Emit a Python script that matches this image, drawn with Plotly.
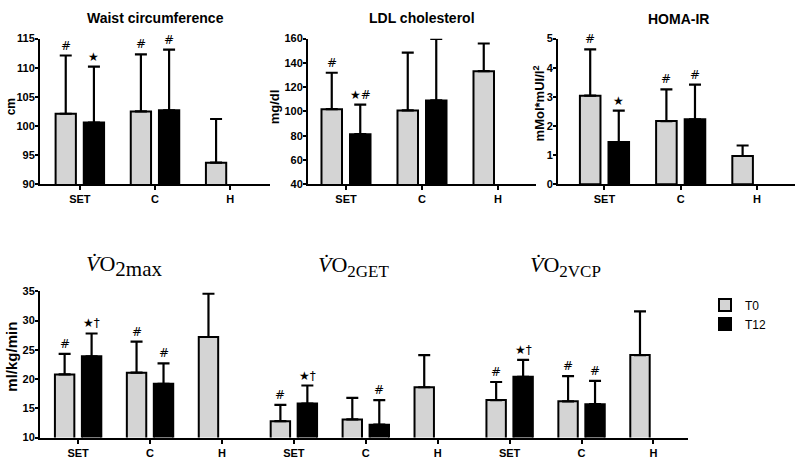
import plotly.graph_objects as go

W, H = 797, 463

# ---------------- data ----------------
groups = ["SET", "C", "H"]

waist_t0 = [102.1, 102.5, 93.7]
waist_t0_sd = [10.0, 9.8, 7.5]
waist_t12 = [100.6, 102.7, None]
waist_t12_sd = [9.6, 10.4, None]
waist_t0_mark = ["#", "#", ""]
waist_t12_mark = ["★", "#", ""]

ldl_t0 = [101.9, 100.8, 133.2]
ldl_t0_sd = [30.0, 47.7, 22.8]
ldl_t12 = [81.3, 109.1, None]
ldl_t12_sd = [24.3, 50.6, None]
ldl_t0_mark = ["#", "", ""]
ldl_t12_mark = ["★#", "", ""]

homa_t0 = [3.04, 2.17, 0.97]
homa_t0_sd = [1.59, 1.09, 0.36]
homa_t12 = [1.45, 2.23, None]
homa_t12_sd = [1.08, 1.19, None]
homa_t0_mark = ["#", "#", ""]
homa_t12_mark = ["★", "#", ""]

# bottom panel: VO2max, VO2GET, VO2VCP (each SET, C, H)
vo2_labels = ["SET", "C", "H"] * 3
vo2_t0 = [20.8, 21.1, 27.2, 12.8, 13.1, 18.6, 16.4, 16.2, 24.1]
vo2_t0_sd = [3.5, 5.3, 7.4, 2.8, 3.7, 5.5, 3.1, 4.3, 7.5]
vo2_t12 = [23.9, 19.2, None, 15.8, 12.2, None, 20.4, 15.7, None]
vo2_t12_sd = [3.9, 3.5, None, 3.1, 4.2, None, 2.9, 4.0, None]
vo2_t0_mark = ["#", "#", "", "#", "", "", "#", "#", ""]
vo2_t12_mark = ["★†", "#", "", "★†", "#", "", "★†", "#", ""]

panel_titles = ["Waist circumference", "LDL cholesterol", "HOMA-IR"]
y_titles = ["cm", "mg/dl", "mMol*mUI/l<sup>2</sup>"]
vo2_subs = ["2max", "2GET", "2VCP"]

# ---------------- style ----------------
GRAY = "#d4d4d4"
BLACK = "#000000"
SANS = "Arial, Liberation Sans, sans-serif"
SERIF = "Times New Roman, Liberation Serif, serif"
BARGAP = 0.25
BARGROUPGAP = 0.28
SLOT = (1 - BARGAP) / 2
OFF = SLOT / 2  # center offset of each bar from group center


def px_dom_x(a, b):
    return [a / W, b / W]


def px_dom_y(top, bottom):
    return [1 - bottom / H, 1 - top / H]


fig = go.Figure()

panels = [
    dict(xa="x", ya="y", t0=waist_t0, t0sd=waist_t0_sd, t12=waist_t12, t12sd=waist_t12_sd,
         m0=waist_t0_mark, m12=waist_t12_mark, labels=groups),
    dict(xa="x2", ya="y2", t0=ldl_t0, t0sd=ldl_t0_sd, t12=ldl_t12, t12sd=ldl_t12_sd,
         m0=ldl_t0_mark, m12=ldl_t12_mark, labels=groups),
    dict(xa="x3", ya="y3", t0=homa_t0, t0sd=homa_t0_sd, t12=homa_t12, t12sd=homa_t12_sd,
         m0=homa_t0_mark, m12=homa_t12_mark, labels=groups),
    dict(xa="x4", ya="y4", t0=vo2_t0, t0sd=vo2_t0_sd, t12=vo2_t12, t12sd=vo2_t12_sd,
         m0=vo2_t0_mark, m12=vo2_t12_mark, labels=vo2_labels),
]

annotations = []
for pi, p in enumerate(panels):
    xs = list(range(len(p["labels"])))
    for name, vals, sds, color, marks, sign in [
        ("T0", p["t0"], p["t0sd"], GRAY, p["m0"], -1),
        ("T12", p["t12"], p["t12sd"], BLACK, p["m12"], 1),
    ]:
        fig.add_trace(go.Bar(
            x=xs, y=vals, name=name, xaxis=p["xa"], yaxis=p["ya"],
            offsetgroup=name, legendgroup=name, showlegend=(pi == 0),
            marker=dict(color=color, line=dict(color=BLACK, width=2)),
            error_y=dict(type="data", array=sds, arrayminus=[0 if s is not None else None for s in sds],
                         symmetric=False, color=BLACK, thickness=2.2, width=6),
            hoverinfo="skip",
        ))
        for i, (v, s, m) in enumerate(zip(vals, sds, marks)):
            if m and v is not None:
                annotations.append(dict(
                    x=i + sign * OFF, y=v + s, xref=p["xa"], yref=p["ya"],
                    text=m, showarrow=False, yanchor="bottom", xanchor="center",
                    yshift=1, font=dict(family="DejaVu Sans, " + SANS, size=12, color=BLACK),
                ))

axis_common = dict(showline=True, linecolor=BLACK, linewidth=2, showgrid=False, zeroline=False,
                   ticks="outside", tickcolor=BLACK, tickwidth=2, ticklen=3,
                   ticklabelstandoff=-2,
                   tickfont=dict(family=SANS, size=11, color=BLACK, weight="bold"))
xaxis_common = dict(showline=True, linecolor=BLACK, linewidth=2, showgrid=False, zeroline=False,
                    ticks="outside", tickcolor=BLACK, tickwidth=1.5, ticklen=4,
                    tickfont=dict(family=SANS, size=11, color=BLACK, weight="bold"), fixedrange=True)

layout = dict(
    width=W, height=H, margin=dict(l=0, r=0, t=0, b=0),
    paper_bgcolor="white", plot_bgcolor="white",
    barmode="group", bargap=BARGAP, bargroupgap=BARGROUPGAP,
    showlegend=True,
    legend=dict(x=705 / W, y=1 - 292 / H, xanchor="left", yanchor="top",
                font=dict(family=SANS, size=12, color=BLACK), bgcolor="rgba(0,0,0,0)",
                tracegroupgap=0, itemclick=False),
)

# top panels
top_x = [(40, 270, -0.53, 2.53), (308, 536, -0.5, 2.5), (558, 795, -0.61, 2.5)]
top_y = [(90, 115, 5), (40, 160, 20), (0, 5, 1)]
for k in range(3):
    xa = "xaxis" if k == 0 else f"xaxis{k + 1}"
    ya = "yaxis" if k == 0 else f"yaxis{k + 1}"
    x0, x1, r0, r1 = top_x[k]
    lo, hi, dt = top_y[k]
    layout[xa] = dict(xaxis_common, domain=px_dom_x(x0, x1), range=[r0, r1],
                      tickvals=list(range(3)), ticktext=groups,
                      anchor="y" if k == 0 else f"y{k + 1}")
    layout[ya] = dict(axis_common, domain=px_dom_y(33.5, 183), range=[lo, hi], dtick=dt,
                      tick0=lo, anchor="x" if k == 0 else f"x{k + 1}")

# bottom panel
layout["xaxis4"] = dict(xaxis_common, domain=px_dom_x(40, 688), range=[-0.53, 8.48],
                        tickvals=list(range(9)), ticktext=vo2_labels, anchor="y4")
layout["yaxis4"] = dict(axis_common, domain=px_dom_y(293, 443), range=[10, 35], dtick=5,
                        tick0=10, anchor="x4")

# panel titles
title_pos = [(155, 12), (422, 12), (678, 13)]
for t, (cx, cy) in zip(panel_titles, title_pos):
    annotations.append(dict(x=cx / W, y=1 - cy / H, xref="paper", yref="paper", text=t,
                            showarrow=False, xanchor="center", yanchor="middle",
                            font=dict(family=SANS, size=14, color=BLACK, weight="bold")))

ytitle_spec = [(11, 104, 12), (274, 104, 13), (539, 100, 13)]
for t, (cx, cy, fs) in zip(y_titles, ytitle_spec):
    annotations.append(dict(x=cx / W, y=1 - cy / H, xref="paper", yref="paper", text=t,
                            showarrow=False, xanchor="center", yanchor="middle", textangle=-90,
                            font=dict(family=SANS, size=fs, color=BLACK, weight="bold")))
annotations.append(dict(x=12 / W, y=1 - 360 / H, xref="paper", yref="paper", text="ml/kg/min",
                        showarrow=False, xanchor="center", yanchor="middle", textangle=-90,
                        font=dict(family=SANS, size=15, color=BLACK, weight="bold")))

vo2_title_spec = [(124, 267, 21), (354, 267, 17), (565, 267, 17)]
for sub, (cx, cy, sfs) in zip(vo2_subs, vo2_title_spec):
    t = f"<i>V̇</i>O<sub><span style='font-size:{sfs}px'>{sub}</span></sub>"
    annotations.append(dict(x=cx / W, y=1 - cy / H, xref="paper", yref="paper", text=t,
                            showarrow=False, xanchor="center", yanchor="middle",
                            font=dict(family=SERIF, size=22, color=BLACK)))

layout["annotations"] = annotations
fig.update_layout(**layout)
fig.write_html(
    "out.html",
    config={"displayModeBar": False},
    post_script="document.body.style.margin='0';document.body.style.overflow='hidden';",
)
